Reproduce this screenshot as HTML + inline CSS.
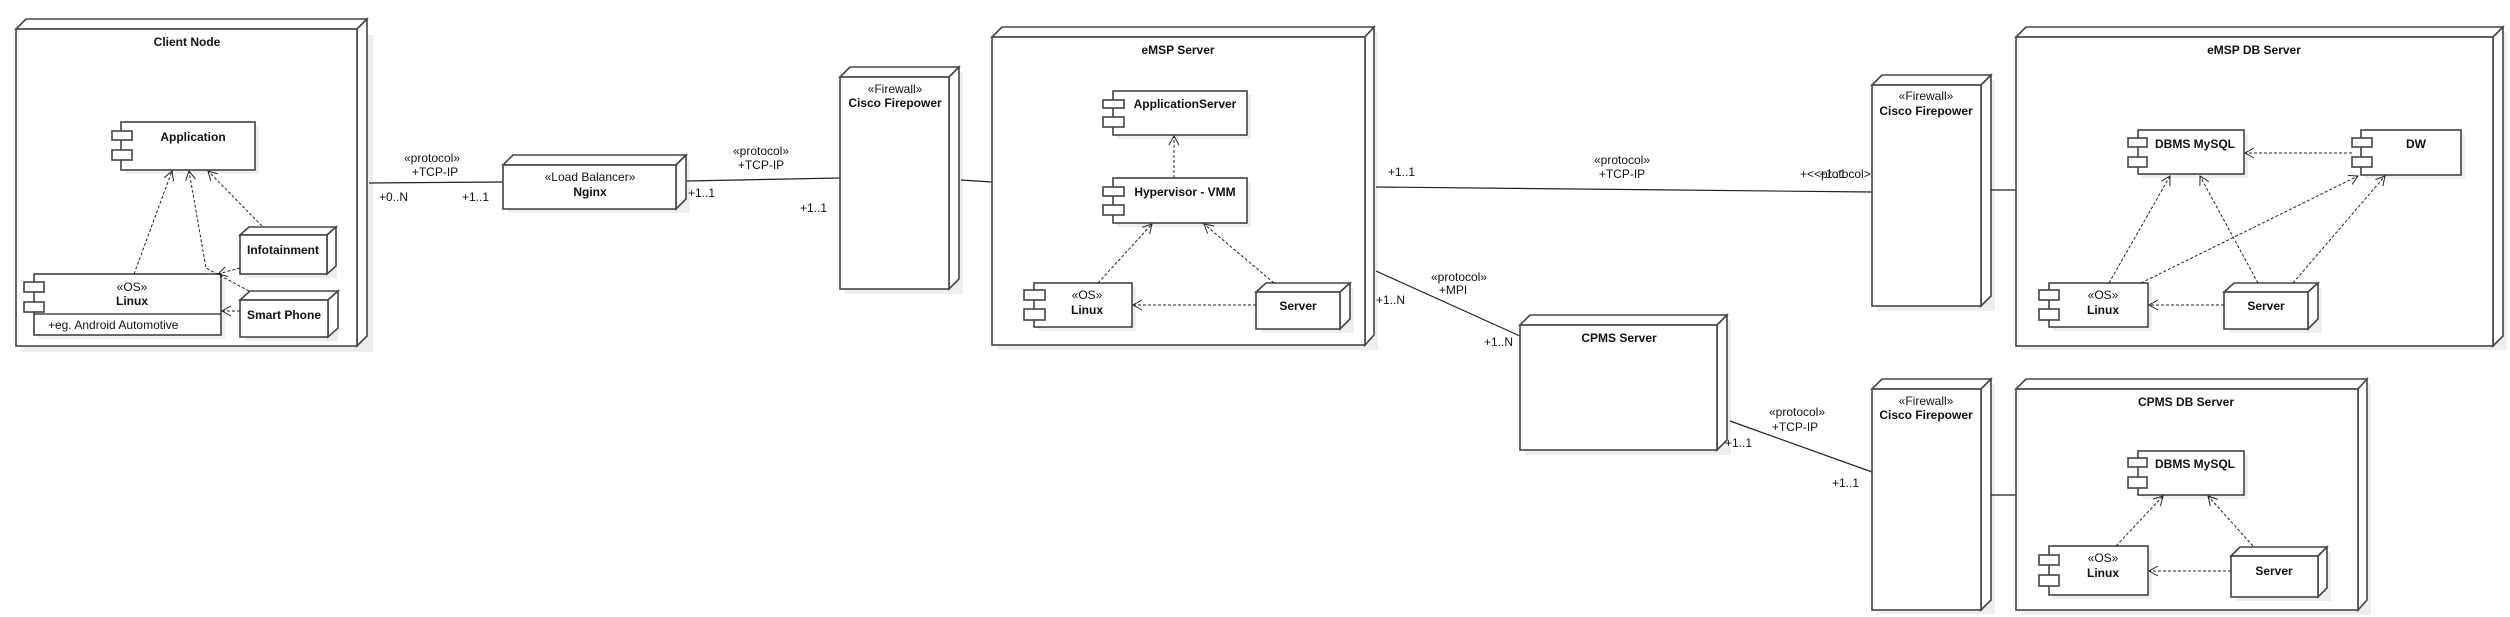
<!DOCTYPE html>
<html><head><meta charset="utf-8"><style>
html,body{margin:0;padding:0;background:#fff;}
svg{display:block;}
text{font-family:"Liberation Sans",sans-serif;font-size:12px;fill:#111;}
.b{font-weight:bold;}
.n{fill:#fff;stroke:#444;stroke-width:1.6;}
.l{stroke:#222;stroke-width:1.2;fill:none;}
.d{stroke:#222;stroke-width:1;fill:none;stroke-dasharray:3,2;}
.sh{fill:#eee;}
</style></head><body>
<svg width="2510" height="617" viewBox="0 0 2510 617" xmlns="http://www.w3.org/2000/svg">
<defs>
<marker id="a" markerWidth="12" markerHeight="12" refX="10" refY="6" orient="auto" markerUnits="userSpaceOnUse">
<path d="M1,1 L10,6 L1,11" fill="none" stroke="#222" stroke-width="1"/>
</marker>
</defs>

<!-- Client Node -->
<rect class="sh" x="22" y="35" width="351" height="317"/>
<polygon class="n" points="16,29 26,19 367,19 357,29"/>
<polygon class="n" points="357,29 367,19 367,336 357,346"/>
<rect class="n" x="16" y="29" width="341" height="317"/>
<text class="b" x="187" y="46" text-anchor="middle">Client Node</text>

<!-- Application comp -->
<rect class="sh" x="125" y="126" width="134" height="48"/>
<rect class="n" x="121" y="122" width="134" height="48"/>
<rect class="n" x="112" y="131" width="20" height="9"/>
<rect class="n" x="112" y="150" width="20" height="10"/>
<text class="b" x="193" y="141" text-anchor="middle">Application</text>

<!-- Linux comp -->
<rect class="sh" x="38" y="278" width="187" height="61"/>
<rect class="n" x="34" y="274" width="187" height="61"/>
<line class="l" x1="34" y1="314" x2="221" y2="314" stroke="#444"/>
<rect class="n" x="24" y="282" width="20" height="10"/>
<rect class="n" x="24" y="302" width="20" height="10"/>
<text x="132" y="291" text-anchor="middle">«OS»</text>
<text class="b" x="132" y="305" text-anchor="middle">Linux</text>
<text x="48" y="329">+eg. Android Automotive</text>

<!-- Infotainment -->
<rect class="sh" x="245" y="232" width="92" height="46"/>
<polygon class="n" points="240,235 249,227 336,227 327,235"/>
<polygon class="n" points="327,235 336,227 336,266 327,274"/>
<rect class="n" x="240" y="235" width="87" height="39"/>
<text class="b" x="283" y="254" text-anchor="middle">Infotainment</text>

<!-- Smart Phone -->
<rect class="sh" x="245" y="296" width="93" height="45"/>
<polygon class="n" points="240,300 250,291 338,291 328,300"/>
<polygon class="n" points="328,300 338,291 338,328 328,337"/>
<rect class="n" x="240" y="300" width="88" height="37"/>
<text class="b" x="284" y="319" text-anchor="middle">Smart Phone</text>

<!-- client dashed -->
<line class="d" x1="134" y1="274" x2="172" y2="171" marker-end="url(#a)"/>
<polyline class="d" points="249,291 206,268 189,171" marker-end="url(#a)"/>
<line class="d" x1="262" y1="226" x2="208" y2="171" marker-end="url(#a)"/>
<line class="d" x1="240" y1="268" x2="218" y2="274" marker-end="url(#a)"/>
<line class="d" x1="240" y1="311" x2="222" y2="311" marker-end="url(#a)"/>

<!-- client-nginx -->
<line class="l" x1="369" y1="183" x2="503" y2="182"/>
<text x="432" y="162" text-anchor="middle">«protocol»</text>
<text x="435" y="176" text-anchor="middle">+TCP-IP</text>
<text x="379" y="201">+0..N</text>
<text x="462" y="201">+1..1</text>

<!-- Nginx -->
<rect class="sh" x="508" y="160" width="182" height="53"/>
<polygon class="n" points="503,165 513,155 686,155 676,165"/>
<polygon class="n" points="676,165 686,155 686,199 676,209"/>
<rect class="n" x="503" y="165" width="173" height="44"/>
<text x="590" y="181" text-anchor="middle">«Load Balancer»</text>
<text class="b" x="590" y="196" text-anchor="middle">Nginx</text>

<!-- nginx-fw1 -->
<line class="l" x1="687" y1="181" x2="840" y2="178"/>
<text x="761" y="155" text-anchor="middle">«protocol»</text>
<text x="761" y="169" text-anchor="middle">+TCP-IP</text>
<text x="688" y="197">+1..1</text>
<text x="800" y="212">+1..1</text>

<!-- Firewall 1 -->
<rect class="sh" x="845" y="72" width="118" height="222"/>
<polygon class="n" points="840,77 850,67 959,67 949,77"/>
<polygon class="n" points="949,77 959,67 959,279 949,289"/>
<rect class="n" x="840" y="77" width="109" height="212"/>
<text x="895" y="93" text-anchor="middle">«Firewall»</text>
<text class="b" x="895" y="107" text-anchor="middle">Cisco Firepower</text>
<line class="l" x1="961" y1="180" x2="992" y2="182"/>

<!-- eMSP Server -->
<rect class="sh" x="998" y="32" width="380" height="318"/>
<polygon class="n" points="992,37 1002,27 1374,27 1365,37"/>
<polygon class="n" points="1365,37 1374,27 1374,335 1365,345"/>
<rect class="n" x="992" y="37" width="373" height="308"/>
<text class="b" x="1178" y="54" text-anchor="middle">eMSP Server</text>

<rect class="sh" x="1117" y="95" width="134" height="44"/>
<rect class="n" x="1113" y="91" width="134" height="44"/>
<rect class="n" x="1103" y="100" width="21" height="8"/>
<rect class="n" x="1103" y="117" width="21" height="10"/>
<text class="b" x="1185" y="108" text-anchor="middle">ApplicationServer</text>

<rect class="sh" x="1117" y="182" width="134" height="45"/>
<rect class="n" x="1113" y="178" width="134" height="45"/>
<rect class="n" x="1103" y="187" width="21" height="9"/>
<rect class="n" x="1103" y="205" width="21" height="10"/>
<text class="b" x="1185" y="196" text-anchor="middle">Hypervisor - VMM</text>

<rect class="sh" x="1038" y="287" width="98" height="44"/>
<rect class="n" x="1034" y="283" width="98" height="44"/>
<rect class="n" x="1024" y="290" width="21" height="10"/>
<rect class="n" x="1024" y="309" width="21" height="11"/>
<text x="1087" y="299" text-anchor="middle">«OS»</text>
<text class="b" x="1087" y="314" text-anchor="middle">Linux</text>

<rect class="sh" x="1261" y="288" width="93" height="45"/>
<polygon class="n" points="1256,292 1266,283 1350,283 1340,292"/>
<polygon class="n" points="1340,292 1350,283 1350,319 1340,329"/>
<rect class="n" x="1256" y="292" width="84" height="37"/>
<text class="b" x="1298" y="310" text-anchor="middle">Server</text>

<line class="d" x1="1174" y1="178" x2="1174" y2="136" marker-end="url(#a)"/>
<line class="d" x1="1098" y1="283" x2="1152" y2="224" marker-end="url(#a)"/>
<line class="d" x1="1274" y1="283" x2="1204" y2="224" marker-end="url(#a)"/>
<line class="d" x1="1256" y1="305" x2="1133" y2="305" marker-end="url(#a)"/>

<!-- eMSP - fw2 -->
<line class="l" x1="1376" y1="187" x2="1872" y2="192"/>
<text x="1388" y="176">+1..1</text>
<text x="1622" y="164" text-anchor="middle">«protocol»</text>
<text x="1622" y="178" text-anchor="middle">+TCP-IP</text>
<text x="1800" y="178">+&lt;&lt;protocol&gt;&gt;A</text>
<text x="1819" y="178">+1..1</text>

<!-- eMSP - CPMS -->
<line class="l" x1="1376" y1="271" x2="1520" y2="336"/>
<text x="1459" y="281" text-anchor="middle">«protocol»</text>
<text x="1453" y="294" text-anchor="middle">+MPI</text>
<text x="1376" y="304">+1..N</text>
<text x="1484" y="346">+1..N</text>

<!-- CPMS Server -->
<rect class="sh" x="1525" y="320" width="206" height="135"/>
<polygon class="n" points="1520,325 1530,315 1727,315 1717,325"/>
<polygon class="n" points="1717,325 1727,315 1727,440 1717,450"/>
<rect class="n" x="1520" y="325" width="197" height="125"/>
<text class="b" x="1619" y="342" text-anchor="middle">CPMS Server</text>

<!-- CPMS - fw3 -->
<line class="l" x1="1730" y1="421" x2="1872" y2="472"/>
<text x="1797" y="416" text-anchor="middle">«protocol»</text>
<text x="1795" y="431" text-anchor="middle">+TCP-IP</text>
<text x="1725" y="447">+1..1</text>
<text x="1832" y="487">+1..1</text>

<!-- Firewall 2 -->
<rect class="sh" x="1877" y="80" width="118" height="231"/>
<polygon class="n" points="1872,85 1882,75 1991,75 1981,85"/>
<polygon class="n" points="1981,85 1991,75 1991,296 1981,306"/>
<rect class="n" x="1872" y="85" width="109" height="221"/>
<text x="1926" y="100" text-anchor="middle">«Firewall»</text>
<text class="b" x="1926" y="115" text-anchor="middle">Cisco Firepower</text>
<line class="l" x1="1991" y1="190" x2="2016" y2="190"/>

<!-- Firewall 3 -->
<rect class="sh" x="1877" y="384" width="118" height="230"/>
<polygon class="n" points="1872,389 1882,379 1991,379 1981,389"/>
<polygon class="n" points="1981,389 1991,379 1991,600 1981,610"/>
<rect class="n" x="1872" y="389" width="109" height="221"/>
<text x="1926" y="405" text-anchor="middle">«Firewall»</text>
<text class="b" x="1926" y="419" text-anchor="middle">Cisco Firepower</text>
<line class="l" x1="1991" y1="495" x2="2016" y2="495"/>

<!-- eMSP DB Server -->
<rect class="sh" x="2022" y="32" width="485" height="318"/>
<polygon class="n" points="2016,37 2026,27 2503,27 2493,37"/>
<polygon class="n" points="2493,37 2503,27 2503,336 2493,346"/>
<rect class="n" x="2016" y="37" width="477" height="309"/>
<text class="b" x="2254" y="54" text-anchor="middle">eMSP DB Server</text>

<rect class="sh" x="2142" y="134" width="106" height="44"/>
<rect class="n" x="2138" y="130" width="106" height="44"/>
<rect class="n" x="2128" y="138" width="19" height="9"/>
<rect class="n" x="2128" y="157" width="19" height="10"/>
<text class="b" x="2195" y="148" text-anchor="middle">DBMS MySQL</text>

<rect class="sh" x="2365" y="134" width="100" height="45"/>
<rect class="n" x="2361" y="130" width="100" height="45"/>
<rect class="n" x="2352" y="138" width="20" height="9"/>
<rect class="n" x="2352" y="157" width="20" height="10"/>
<text class="b" x="2416" y="148" text-anchor="middle">DW</text>

<rect class="sh" x="2053" y="287" width="99" height="44"/>
<rect class="n" x="2049" y="283" width="99" height="44"/>
<rect class="n" x="2039" y="290" width="20" height="10"/>
<rect class="n" x="2039" y="309" width="20" height="11"/>
<text x="2103" y="299" text-anchor="middle">«OS»</text>
<text class="b" x="2103" y="314" text-anchor="middle">Linux</text>

<rect class="sh" x="2229" y="288" width="93" height="45"/>
<polygon class="n" points="2224,292 2234,283 2318,283 2308,292"/>
<polygon class="n" points="2308,292 2318,283 2318,319 2308,329"/>
<rect class="n" x="2224" y="292" width="84" height="37"/>
<text class="b" x="2266" y="310" text-anchor="middle">Server</text>

<line class="d" x1="2352" y1="153" x2="2245" y2="153" marker-end="url(#a)"/>
<line class="d" x1="2109" y1="283" x2="2170" y2="176" marker-end="url(#a)"/>
<line class="d" x1="2141" y1="283" x2="2358" y2="176" marker-end="url(#a)"/>
<line class="d" x1="2258" y1="283" x2="2200" y2="176" marker-end="url(#a)"/>
<line class="d" x1="2293" y1="283" x2="2385" y2="176" marker-end="url(#a)"/>
<line class="d" x1="2224" y1="305" x2="2149" y2="305" marker-end="url(#a)"/>

<!-- CPMS DB Server -->
<rect class="sh" x="2022" y="384" width="349" height="231"/>
<polygon class="n" points="2016,389 2026,379 2367,379 2358,389"/>
<polygon class="n" points="2358,389 2367,379 2367,600 2358,610"/>
<rect class="n" x="2016" y="389" width="342" height="221"/>
<text class="b" x="2186" y="406" text-anchor="middle">CPMS DB Server</text>

<rect class="sh" x="2142" y="455" width="106" height="44"/>
<rect class="n" x="2138" y="451" width="106" height="44"/>
<rect class="n" x="2128" y="458" width="19" height="9"/>
<rect class="n" x="2128" y="477" width="19" height="11"/>
<text class="b" x="2195" y="468" text-anchor="middle">DBMS MySQL</text>

<rect class="sh" x="2053" y="550" width="99" height="49"/>
<rect class="n" x="2049" y="546" width="99" height="49"/>
<rect class="n" x="2039" y="555" width="20" height="10"/>
<rect class="n" x="2039" y="575" width="20" height="11"/>
<text x="2103" y="562" text-anchor="middle">«OS»</text>
<text class="b" x="2103" y="577" text-anchor="middle">Linux</text>

<rect class="sh" x="2236" y="552" width="95" height="49"/>
<polygon class="n" points="2231,556 2240,547 2327,547 2318,556"/>
<polygon class="n" points="2318,556 2327,547 2327,588 2318,597"/>
<rect class="n" x="2231" y="556" width="87" height="41"/>
<text class="b" x="2274" y="575" text-anchor="middle">Server</text>

<line class="d" x1="2116" y1="546" x2="2163" y2="496" marker-end="url(#a)"/>
<line class="d" x1="2253" y1="546" x2="2208" y2="496" marker-end="url(#a)"/>
<line class="d" x1="2231" y1="571" x2="2149" y2="571" marker-end="url(#a)"/>
</svg>
</body></html>
